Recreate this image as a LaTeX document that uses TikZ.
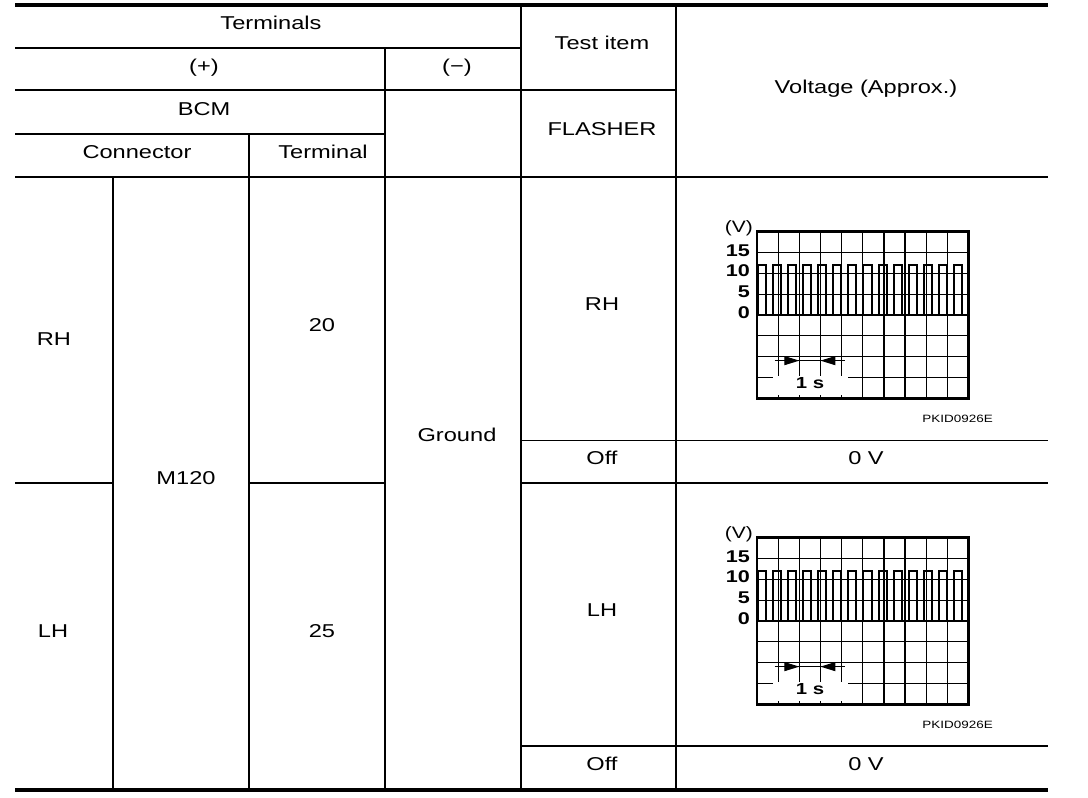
\documentclass[tikz,border=0pt]{standalone}
\usepackage{fontspec}
\setmainfont{Liberation Sans}[FakeStretch=1.27]
\usetikzlibrary{arrows.meta}

\tikzset{
	rulethick/.style={line width=3.5pt},
	rulemid/.style={line width=2pt},
	rulethin/.style={line width=1.2pt},
	celltext/.style={inner sep=0pt, text height=0.716em, text depth=0pt, font=\fontsize{18.6}{22}\selectfont},
	ticklbl/.style={inner sep=0pt, text height=0.716em, text depth=0pt, font=\fontsize{16.5}{20}\selectfont},
	ticklblb/.style={ticklbl, font=\fontsize{17}{20}\selectfont\bfseries},
	codelbl/.style={inner sep=0pt, text height=0.716em, text depth=0pt, font=\fontsize{10.6}{13}\selectfont},
	gridln/.style={line width=1.2pt},
	plotbox/.style={line width=2.7pt},
	wave/.style={line width=2pt, line join=miter},
	dimln/.style={line width=1pt},
	dimtip/.style={dimln, -{Triangle[length=15pt,width=9pt]}}
}

\begin{document}
\begin{tikzpicture}[x=1pt, y=-1pt]
	\useasboundingbox (0,0) rectangle (1088,798);
	\draw[rulethick] (15,5) -- (1048,5);
	\draw[rulethick] (15,790) -- (1048,790);
	\draw[rulemid] (15,48) -- (521,48);
	\draw[rulethin] (15,90) -- (676,90);
	\draw[rulemid] (15,134) -- (385,134);
	\draw[rulemid] (15,177) -- (1048,177);
	\draw[rulethin] (521,440.5) -- (1048,440.5);
	\draw[rulemid] (15,483) -- (113,483);
	\draw[rulemid] (249,483) -- (385,483);
	\draw[rulemid] (521,483) -- (1048,483);
	\draw[rulethin] (521,746) -- (1048,746);
	\draw[rulemid] (113,177) -- (113,790);
	\draw[rulemid] (249,134) -- (249,790);
	\draw[rulemid] (385,48) -- (385,790);
	\draw[rulemid] (521,5) -- (521,790);
	\draw[rulemid] (676,5) -- (676,790);

	\node[celltext] (hdterm) at (271,26) {Terminals};
	\node[celltext] (hdplus) at (204,69) {(+)};
	\node[celltext] (hdminus) at (457,69) {(−)};
	\node[celltext] (hdbcm) at (204,111.5) {BCM};
	\node[celltext] (hdconn) at (137,155) {Connector};
	\node[celltext] (hdpin) at (323,155) {Terminal};
	\node[celltext] (hdtest) at (602,46) {Test item};
	\node[celltext] (hdflash) at (602,132) {FLASHER};
	\node[celltext] (hdvolt) at (866,90) {Voltage (Approx.)};
	\node[celltext] (rhside) at (54,342) {RH};
	\node[celltext] (lhside) at (53,634) {LH};
	\node[celltext] (conn) at (186,481) {M120};
	\node[celltext] (pinrh) at (322,327.5) {20};
	\node[celltext] (pinlh) at (322,634) {25};
	\node[celltext] (gnd) at (457,438) {Ground};
	\node[celltext] (itemrh) at (602,306.5) {RH};
	\node[celltext] (offrh) at (602,460.5) {Off};
	\node[celltext] (zerorh) at (866,460.5) {0 V};
	\node[celltext] (itemlh) at (602,612.5) {LH};
	\node[celltext] (offlh) at (602,766.5) {Off};
	\node[celltext] (zerolh) at (866,766.5) {0 V};

	\foreach \dy/\nm in {0/rh,306/lh}{
		\begin{scope}[shift={(757,231.7+\dy)}, x=21.15pt, y=-20.83pt]
			\foreach \i in {1,...,9} \draw[gridln] (\i,0) -- (\i,8);
			\foreach \j in {1,...,7} \draw[gridln] (0,\j) -- (10,\j);
			\fill[white] (0.76,6.95) rectangle (4.3,7.85);
			\draw[wave] (0,4) \foreach \k in {0,...,13} { -- ({0.05+0.712*\k},4) -- ++(0,-2.425) -- ++(0.38,0) -- ++(0,2.425) } -- (10,4);
			\draw[plotbox] (0,0) rectangle (10,8);
			\coordinate (\nm-dl) at (0.85,6.19);
			\coordinate (\nm-da) at (2,6.19);
			\coordinate (\nm-db) at (3,6.19);
			\coordinate (\nm-dr) at (4.16,6.19);
			\draw[dimln] (\nm-dl) -- (\nm-dr);
			\draw[dimtip] (\nm-dl) -- (\nm-da);
			\draw[dimtip] (\nm-dr) -- (\nm-db);
			\node[ticklbl, anchor=east] (\nm-v) at ([xshift=-4pt]0,-0.13) {(V)};
			\node[ticklblb, anchor=east] (\nm-15) at ([xshift=-7pt]0,1) {15};
			\node[ticklblb, anchor=east] (\nm-10) at ([xshift=-7pt]0,2) {10};
			\node[ticklblb, anchor=east] (\nm-5) at ([xshift=-7pt]0,3) {5};
			\node[ticklblb, anchor=east] (\nm-0) at ([xshift=-7pt]0,4) {0};
			\node[ticklblb, font=\fontsize{16}{19}\selectfont\bfseries] (\nm-sec) at (2.506,7.34) {1 s};
			\node[codelbl, anchor=east] (\nm-code) at (11.16,8.99) {PKID0926E};
		\end{scope}
	}
\end{tikzpicture}
\end{document}
